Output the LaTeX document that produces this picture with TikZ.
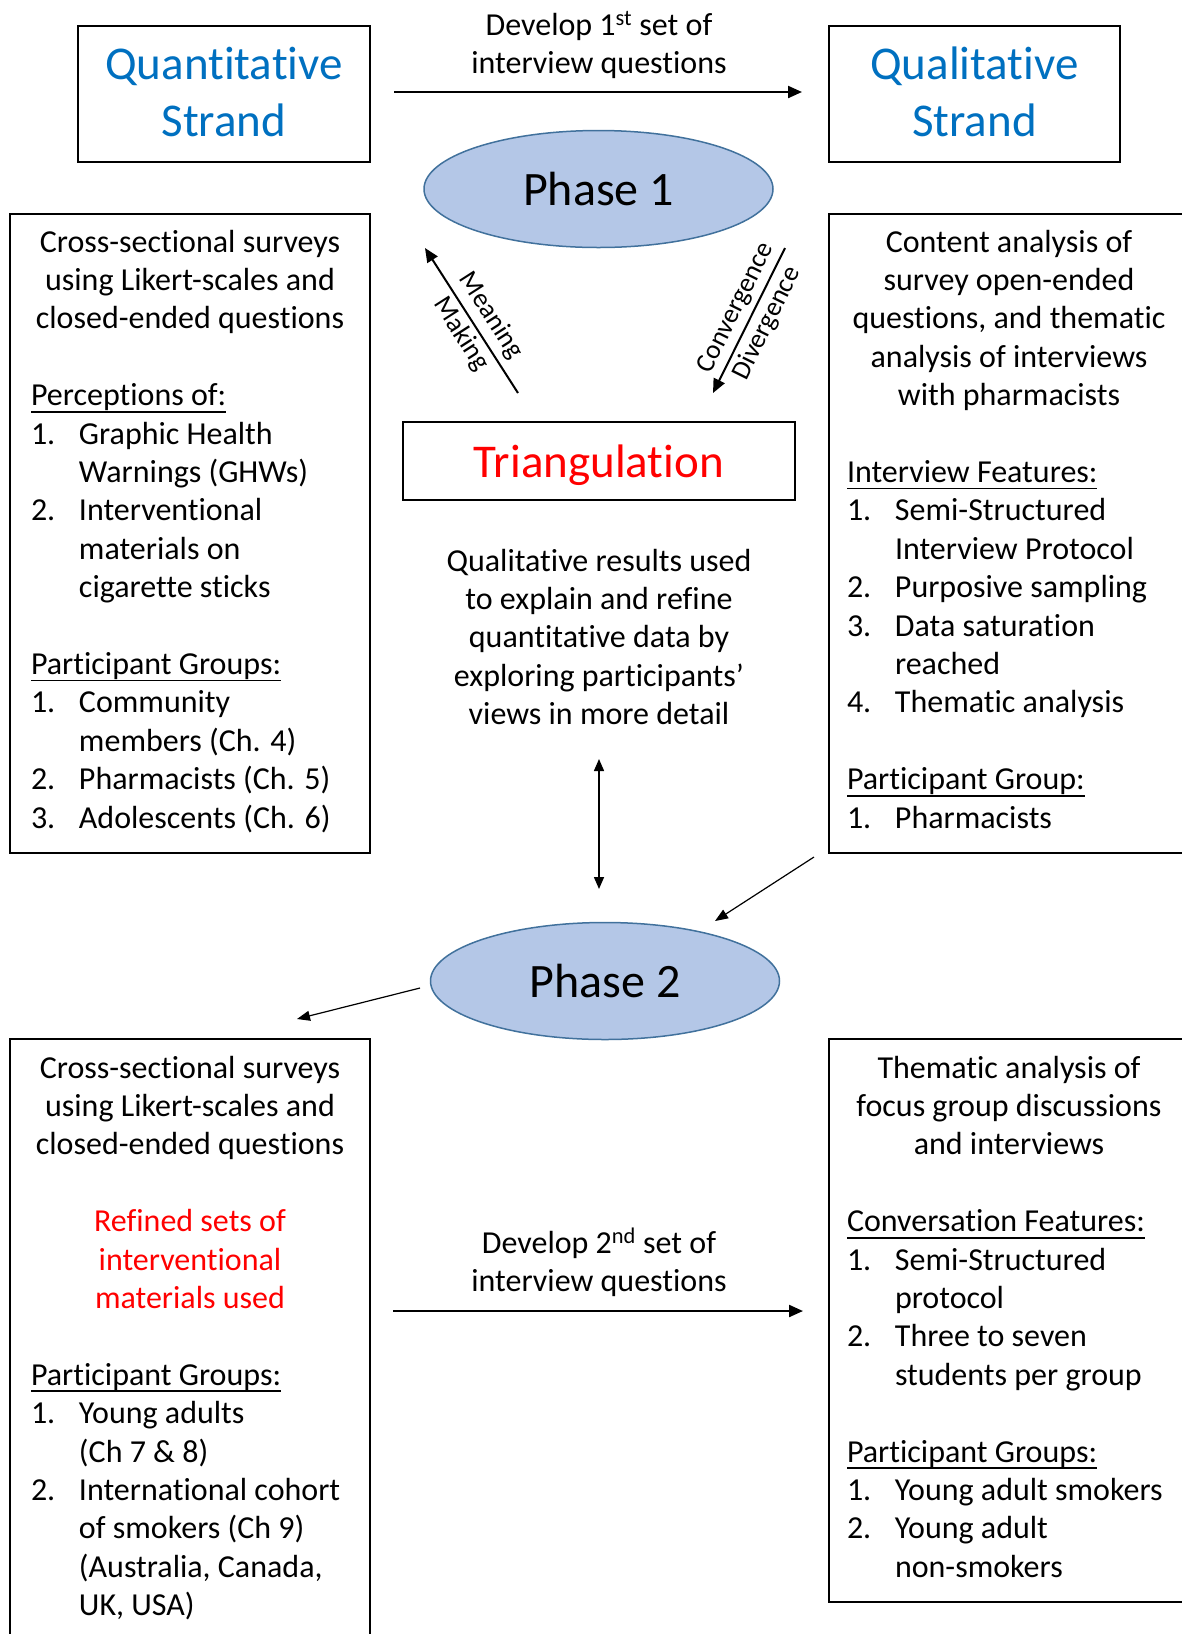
\documentclass[tikz,border=0pt]{standalone}
\usepackage{fontspec}
\setmainfont{Carlito}[Ligatures={TeX,NoCommon}]
\usetikzlibrary{arrows.meta,shapes.geometric,calc}
\definecolor{strandblue}{HTML}{0070C0}
\definecolor{ellfill}{HTML}{B4C7E7}
\definecolor{elldraw}{HTML}{41719C}
\definecolor{accred}{HTML}{FF0000}
\newcommand{\bodyfont}{\fontsize{32}{38.4}\selectfont}
\newcommand{\bigfont}{\fontsize{47}{57}\selectfont}
\newcommand{\lblfont}{\fontsize{27}{35}\selectfont}
\newcommand{\itm}[2]{\makebox[48pt][l]{#1}#2}
\newcommand{\cont}[1]{\hspace*{48pt}#1}
\newcommand{\cl}[1]{\begin{tabular}[t]{@{}c@{}}#1\end{tabular}}
\newcommand{\undl}[1]{\leavevmode\setbox0=\hbox{#1}\rlap{\rule[-7pt]{\wd0}{1.8pt}}\box0}
\begin{document}
\begin{tikzpicture}[x=1pt,y=-1pt,
  box/.style={draw, line width=2pt, inner sep=0pt},
  ell/.style={ellipse, draw=elldraw, fill=ellfill, line width=1.5pt, inner sep=0pt,
     minimum width=349pt, minimum height=117pt, font=\fontsize{48}{57}\selectfont},
  body/.style={anchor=base, inner sep=0pt, font=\bodyfont},
  thickarr/.style={line width=2.2pt, -{Triangle[length=14pt,width=12pt]}},
  midarr/.style={line width=2pt, -{Triangle[length=14pt,width=12pt]}},
  thinarr/.style={line width=1.2pt, -{Triangle[length=13pt,width=10pt]}},
  dblarr/.style={line width=1.5pt, {Triangle[length=12pt,width=10pt]}-{Triangle[length=12pt,width=10pt]}},
  diaglbl/.style={align=center, inner sep=0pt, font=\lblfont}
]
\useasboundingbox (0,0) rectangle (1182,1634);
\clip (0,0) rectangle (1182,1634);

% strand boxes
\node[box, minimum width=292pt, minimum height=136pt] (quant) at (224,94) {};
\node[box, minimum width=291pt, minimum height=136pt] (qual) at (974.5,94) {};
\node[anchor=base, inner sep=0pt, font=\bigfont, text=strandblue] (quanttxt) at (224,79) {\cl{Quantitative\\Strand}};
\node[anchor=base, inner sep=0pt, font=\bigfont, text=strandblue] (qualtxt) at (974.5,79) {\cl{Qualitative\\Strand}};

% top connector
\node[body] (lbltop) at (599,35) {\cl{Develop 1\textsuperscript{st} set of\\interview questions}};
\draw[thickarr] ([xshift=23pt,yshift=2pt]quant.east) -- ([xshift=-26pt,yshift=2pt]qual.west);

% phase 1
\node[ell] (ph1) at (598.5,189) {Phase 1};

% body boxes phase 1
\node[box, minimum width=360pt, minimum height=639pt] (lb1) at (190,533.5) {};
\node[box, minimum width=360pt, minimum height=639pt] (rb1) at (1009,533.5) {};

\node[body] (lb1txt) at (190,252) {\begin{minipage}[t]{360pt}
\centering Cross-sectional surveys\\using Likert-scales and\\closed-ended questions\par
\vspace{38.4pt}
\raggedright\leftskip=21pt
\undl{Perceptions of:}\\
\itm{1.}{Graphic Health}\\
\cont{Warnings (GHWs)}\\
\itm{2.}{Interventional}\\
\cont{materials on}\\
\cont{cigarette sticks}\par
\vspace{38.4pt}
\undl{Participant Groups:}\\
\itm{1.}{Community}\\
\cont{members (Ch. 4)}\\
\itm{2.}{Pharmacists (Ch. 5)}\\
\itm{3.}{Adolescents (Ch. 6)}\par
\end{minipage}};

\node[body] (rb1txt) at (1009,252) {\begin{minipage}[t]{360pt}
\centering Content analysis of\\survey open-ended\\questions, and thematic\\analysis of interviews\\with pharmacists\par
\vspace{38.4pt}
\raggedright\leftskip=18pt
\undl{Interview Features:}\\
\itm{1.}{Semi-Structured}\\
\cont{Interview Protocol}\\
\itm{2.}{Purposive sampling}\\
\itm{3.}{Data saturation}\\
\cont{reached}\\
\itm{4.}{Thematic analysis}\par
\vspace{38.4pt}
\undl{Participant Group:}\\
\itm{1.}{Pharmacists}\par
\end{minipage}};

% triangulation
\node[box, minimum width=392pt, minimum height=78pt, font=\bigfont, text=accred, text depth=0pt] (tri) at (599,461) {Triangulation};

% diagonal arrows
\coordinate (mmtail) at (518,393);
\coordinate (mmhead) at (425,248);
\coordinate (cdtail) at (785,248);
\coordinate (cdhead) at (713,393);
\draw[midarr] (mmtail) -- (mmhead);
\draw[midarr] (cdtail) -- (cdhead);
\node[diaglbl, rotate=-57.3] (mmlbl) at (476,325) {Meaning\\Making};
\node[diaglbl, rotate=63.6] (cdlbl) at (752,316) {Convergence\\Divergence};

% middle text
\node[body] (midtxt) at (599,571) {\cl{Qualitative results used\\to explain and refine\\quantitative data by\\exploring participants'\\views in more detail}};

% phase 2
\node[ell] (ph2) at (605,981) {Phase 2};

\coordinate (dbltop) at (599,759);
\coordinate (dblbot) at (599,889);
\draw[dblarr] (dbltop) -- (dblbot);

\coordinate (rb1out) at (814,857);
\coordinate (ph2in) at (715,921);
\draw[thinarr] (rb1out) -- (ph2in);
\coordinate (ph2out) at (420,988);
\coordinate (lb2in) at (297,1019);
\draw[thinarr] (ph2out) -- (lb2in);

% body boxes phase 2
\node[box, minimum width=360pt, minimum height=621pt] (lb2) at (190,1349.5) {};
\node[box, minimum width=360pt, minimum height=563pt] (rb2) at (1009,1320.5) {};

\node[body] (lb2txt) at (190,1078) {\begin{minipage}[t]{360pt}
\centering Cross-sectional surveys\\using Likert-scales and\\closed-ended questions\par
\vspace{38.4pt}
{\leavevmode\color{accred}Refined sets of\\interventional\\materials used\par}
\vspace{38.4pt}
\raggedright\leftskip=21pt
\undl{Participant Groups:}\\
\itm{1.}{Young adults}\\
\cont{(Ch 7 \& 8)}\\
\itm{2.}{International cohort}\\
\cont{of smokers (Ch 9)}\\
\cont{(Australia, Canada,}\\
\cont{UK, USA)}\par
\end{minipage}};

\node[body] (rb2txt) at (1009,1078) {\begin{minipage}[t]{360pt}
\centering Thematic analysis of\\focus group discussions\\and interviews\par
\vspace{38.4pt}
\raggedright\leftskip=18pt
\undl{Conversation Features:}\\
\itm{1.}{Semi-Structured}\\
\cont{protocol}\\
\itm{2.}{Three to seven}\\
\cont{students per group}\par
\vspace{38.4pt}
\undl{Participant Groups:}\\
\itm{1.}{Young adult smokers}\\
\itm{2.}{Young adult}\\
\cont{non-smokers}\par
\end{minipage}};

% bottom connector
\node[body] (lblbot) at (599,1253) {\cl{Develop 2\textsuperscript{nd} set of\\interview questions}};
\coordinate (b2s) at (393,1311);
\coordinate (b2e) at (803,1311);
\draw[thickarr] (b2s) -- (b2e);
\end{tikzpicture}
\end{document}
